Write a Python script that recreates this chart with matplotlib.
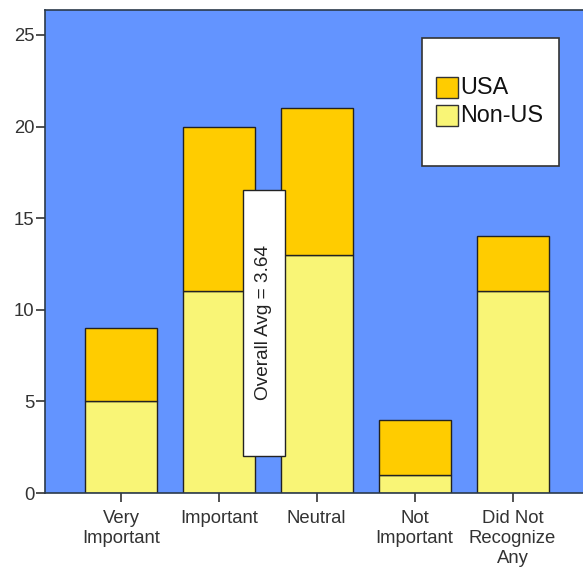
import matplotlib
matplotlib.use("Agg")
import matplotlib.pyplot as plt
from matplotlib.patches import Rectangle

plt.rcParams['font.family'] = ['Liberation Sans', 'DejaVu Sans']

categories = ["Very\nImportant", "Important", "Neutral", "Not\nImportant", "Did Not\nRecognize\nAny"]
non_us = [5, 11, 13, 1, 11]
usa = [4, 9, 8, 3, 3]
overall_avg = 3.64

W, H = 583, 569
fig = plt.figure(figsize=(W / 100, H / 100), dpi=100)
left, right, top, bottom = 45, 588.5, 10, 493
ax = fig.add_axes([left / W, 1 - bottom / H, (right - left) / W, (bottom - top) / H])

bg = '#6394FF'
c_usa = '#FFCC00'
c_non = '#F9F576'
ax.set_facecolor(bg)

x = list(range(len(categories)))
width = 0.735
ax.bar(x, non_us, width, color=c_non, edgecolor='#222222', linewidth=1.0, label='Non-US', zorder=2)
ax.bar(x, usa, width, bottom=non_us, color=c_usa, edgecolor='#222222', linewidth=1.0, label='USA', zorder=2)

ax.set_xlim(-0.776, 4.776)
ax.set_ylim(0, 26.36)
ax.set_yticks([0, 5, 10, 15, 20, 25])
ax.set_xticks(x)
ax.set_xticklabels(categories, linespacing=1.2)

tick_color = '#333333'
ax.tick_params(axis='both', direction='out', length=6.5, width=1.2, color='#333333',
               labelsize=13.3, labelcolor=tick_color)
ax.tick_params(axis='x', pad=6)
ax.tick_params(axis='y', pad=1)
for s in ax.spines.values():
    s.set_color('#2b3a4a')
    s.set_linewidth(1.2)

# Overall average annotation box
box_x0, box_x1 = 1.246, 1.673
box_y0, box_y1 = 2.02, 16.54
ax.add_patch(Rectangle((box_x0, box_y0), box_x1 - box_x0, box_y1 - box_y0,
                       facecolor='white', edgecolor='#222222', linewidth=1.0, zorder=3))
ax.text((box_x0 + box_x1) / 2, (box_y0 + box_y1) / 2, f"Overall Avg = {overall_avg:.2f}",
        rotation=90, ha='center', va='center', fontsize=13.7, color='#222222', zorder=4)

# Legend drawn in figure pixel space
def fx(px):
    return px / W

def fy(py):
    return 1 - py / H

fig.patches.append(Rectangle((fx(422), fy(166)), fx(559) - fx(422), fy(38) - fy(166),
                             transform=fig.transFigure, facecolor='white',
                             edgecolor='#333333', linewidth=1.2, zorder=5))
for label, color, y0 in [('USA', c_usa, 77), ('Non-US', c_non, 105)]:
    fig.patches.append(Rectangle((fx(436), fy(y0 + 21)), fx(458) - fx(436), fy(y0) - fy(y0 + 21),
                                 transform=fig.transFigure, facecolor=color,
                                 edgecolor='#333333', linewidth=1.0, zorder=6))
    fig.text(fx(460), fy(y0 + 11), label, fontsize=16.8, color='#111111',
             ha='left', va='center', zorder=7)

fig.savefig('out.png', dpi=100)
